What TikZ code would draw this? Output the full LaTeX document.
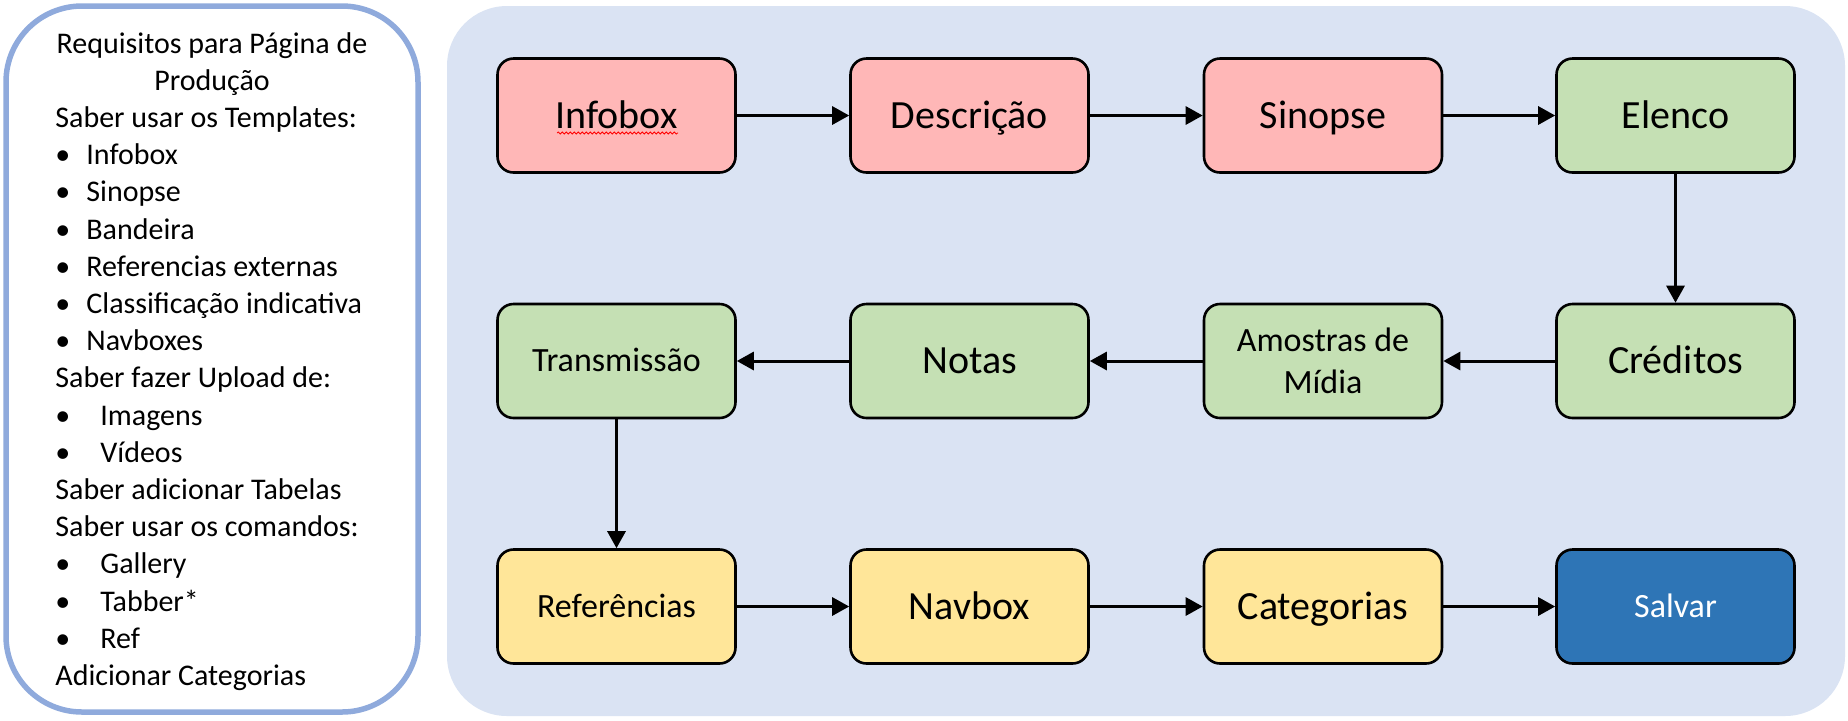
\documentclass[tikz,border=0pt]{standalone}
\usepackage{fontspec}
\setmainfont{Carlito}
\usetikzlibrary{arrows.meta,decorations.pathmorphing}
\pgfdeclarelayer{background}
\pgfsetlayers{background,main}
\definecolor{rosa}{HTML}{FFB7B7}
\definecolor{verde}{HTML}{C5E0B4}
\definecolor{amarelo}{HTML}{FFE699}
\definecolor{azul}{HTML}{2E75B6}
\definecolor{fundo}{HTML}{DAE3F3}
\definecolor{borda}{HTML}{8FAADC}
\tikzstyle{etapa}=[rectangle,rounded corners=8pt,draw=black,line width=1.3pt,minimum width=119pt,minimum height=57pt,inner sep=0pt,align=center,text height=12.9pt,text depth=0pt,font=\fontsize{20}{24}\selectfont]
\tikzstyle{etapa menor}=[etapa,text height=10.9pt,font=\fontsize{17}{20.7}\selectfont]
\tikzstyle{seta} = [draw,line width=1.5pt,-{Triangle[length=8.5pt,width=9pt]}]
\tikzstyle{texto} = [inner sep=0pt,font=\fontsize{15}{18.6}\selectfont]
\tikzstyle{painel} = [rectangle,rounded corners=38pt,draw=borda,line width=2.75pt,minimum width=206pt,minimum height=353pt]

\begin{document}
\begin{tikzpicture}[x=0.5pt,y=-0.5pt]
						\useasboundingbox (0,0) rectangle (1848,720);
						
						% Caixa da esquerda com os requisitos
						\node[painel] (painel) at (212,359) {};
						\node[texto,anchor=base] (titulo1) at (212,53) {Requisitos para Página de};
						\node[texto,anchor=base] (titulo2) at (212,90.2) {Produção};
						\foreach \k/\frase in {2/Saber usar os Templates:, 9/Saber fazer Upload de:, 12/Saber adicionar Tabelas, 13/Saber usar os comandos:, 17/Adicionar Categorias}
						\node[texto,anchor=base west] (linha\k) at (55,{53+37.2*\k}) {\frase};
						\foreach \k/\x/\frase in {3/86/Infobox, 4/86/Sinopse, 5/86/Bandeira, 6/86/Referencias externas, 7/86/Classificação indicativa, 8/86/Navboxes, 10/100/Imagens, 11/100/Vídeos, 14/100/Gallery, 15/100/Tabber*, 16/100/Ref}
						{
							\node[texto,anchor=base west] (marca\k) at (55,{53+37.2*\k}) {\textbullet};
							\node[texto,anchor=base west] (item\k) at (\x,{53+37.2*\k}) {\frase};
						}
						
						% Etapas do fluxo
						\foreach \pos/\name/\cor/\frase in {{(616.5,115.5)/infobox/rosa/Infobox}, {(969.5,115.5)/descricao/rosa/Descrição}, {(1323,115.5)/sinopse/rosa/Sinopse}, {(1675.5,115.5)/elenco/verde/Elenco}, {(1675.5,361)/creditos/verde/Créditos}, {(969.5,361)/notas/verde/Notas}, {(969.5,606.5)/navbox/amarelo/Navbox}, {(1323,606.5)/categorias/amarelo/Categorias}}
						\node[etapa,fill=\cor] (\name) at \pos {\frase};
						
						\foreach \pos/\name/\cor/\frase in {{(616.5,361)/transmissao/verde/Transmissão}, {(616.5,606.5)/referencias/amarelo/Referências}}
						\node[etapa menor,fill=\cor] (\name) at \pos {\frase};
						\node[etapa menor,fill=verde,text height=,text depth=] (amostras) at (1323,361) {Amostras de\\Mídia};
						\node[etapa menor,fill=azul,text=white] (salvar) at (1675.5,606.5) {Salvar};
						
						% sublinhado do corretor
						\draw[red,line width=0.4pt,decorate,decoration={snake,amplitude=0.5pt,segment length=2pt}] (557,133) -- (678,133);
						
						% Setas entre as etapas
						\foreach \source/ \dest in {infobox/descricao, descricao/sinopse, sinopse/elenco, elenco/creditos, creditos/amostras, amostras/notas, notas/transmissao, transmissao/referencias, referencias/navbox, navbox/categorias, categorias/salvar}
						\path[seta] (\source) -- (\dest);
						
						\begin{pgfonlayer}{background}
							\path[fill=fundo,rounded corners=30pt] (447,6) rectangle (1845,716);
						\end{pgfonlayer}
					\end{tikzpicture}
\end{document}
